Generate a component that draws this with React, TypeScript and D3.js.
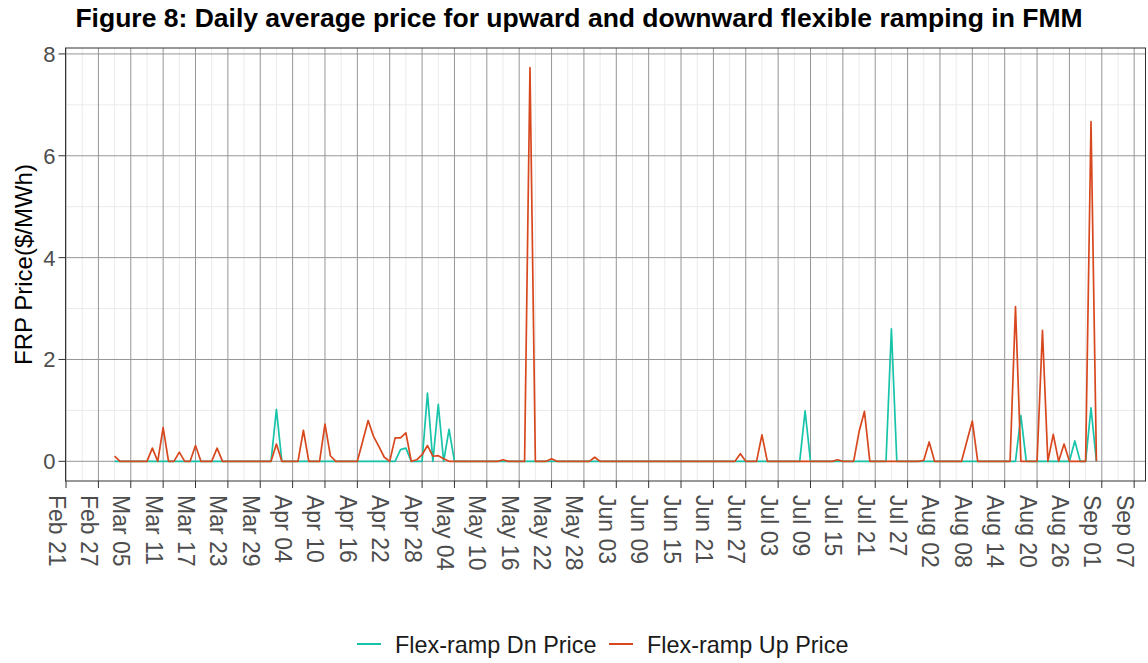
import React, { useEffect, useRef } from 'react';
import * as d3 from 'd3';

// daily values, Mar 02 .. Aug 31 2019
const dnMar = [0, 0, 0, 0, 0, 0, 0, 0, 0, 0, 0, 0, 0, 0, 0, 0, 0, 0, 0, 0, 0, 0, 0, 0, 0, 0, 0, 0, 0, 0];
const dnApr = [1.02, 0, 0, 0, 0, 0, 0, 0, 0, 0, 0, 0, 0, 0, 0, 0, 0, 0, 0, 0, 0, 0, 0, 0.23, 0.26, 0, 0, 0, 1.34, 0];
const dnMay = [1.12, 0, 0.63, 0, 0, 0, 0, 0, 0, 0, 0, 0, 0, 0, 0, 0, 0, 0, 0, 0, 0, 0, 0, 0, 0, 0, 0, 0, 0, 0, 0];
const dnJun = [0, 0, 0, 0, 0, 0, 0, 0, 0, 0, 0, 0, 0, 0, 0, 0, 0, 0, 0, 0, 0, 0, 0, 0, 0, 0, 0, 0, 0, 0];
const dnJul = [0, 0, 0, 0, 0, 0, 0, 0.99, 0, 0, 0, 0, 0, 0, 0, 0, 0, 0, 0, 0, 0, 0, 0, 2.6, 0, 0, 0, 0, 0, 0, 0];
const dnAug = [0, 0, 0, 0, 0, 0, 0, 0, 0, 0, 0, 0, 0, 0, 0, 0, 0.9, 0, 0, 0, 0, 0, 0, 0, 0, 0, 0.4, 0, 0, 1.05, 0];

const upMar = [0.1, 0, 0, 0, 0, 0, 0, 0.26, 0, 0.66, 0, 0, 0.18, 0, 0, 0.31, 0, 0, 0, 0.26, 0, 0, 0, 0, 0, 0, 0, 0, 0, 0];
const upApr = [0.34, 0, 0, 0, 0, 0.61, 0, 0, 0, 0.73, 0.11, 0, 0, 0, 0, 0, 0.4, 0.8, 0.49, 0.29, 0.08, 0, 0.46, 0.46, 0.56, 0, 0.03, 0.13, 0.31, 0.1];
const upMay = [0.11, 0.05, 0, 0, 0, 0, 0, 0, 0, 0, 0, 0, 0.03, 0, 0, 0, 0, 7.73, 0, 0, 0, 0.05, 0, 0, 0, 0, 0, 0, 0, 0.08, 0];
const upJun = [0, 0, 0, 0, 0, 0, 0, 0, 0, 0, 0, 0, 0, 0, 0, 0, 0, 0, 0, 0, 0, 0, 0, 0, 0, 0.15, 0, 0, 0, 0.52];
const upJul = [0, 0, 0, 0, 0, 0, 0, 0, 0, 0, 0, 0, 0, 0.03, 0, 0, 0, 0.58, 0.98, 0, 0, 0, 0, 0, 0, 0, 0, 0, 0, 0.02, 0.38];
const upAug = [0, 0, 0, 0, 0, 0, 0.4, 0.79, 0, 0, 0, 0, 0, 0, 0, 3.04, 0, 0, 0, 0, 2.57, 0, 0.53, 0, 0.34, 0, 0, 0, 0, 6.67, 0];

const tickLabels = ['Feb 21', 'Feb 27', 'Mar 05', 'Mar 11', 'Mar 17', 'Mar 23', 'Mar 29', 'Apr 04', 'Apr 10', 'Apr 16', 'Apr 22', 'Apr 28',
  'May 04', 'May 10', 'May 16', 'May 22', 'May 28', 'Jun 03', 'Jun 09', 'Jun 15', 'Jun 21', 'Jun 27', 'Jul 03', 'Jul 09', 'Jul 15',
  'Jul 21', 'Jul 27', 'Aug 02', 'Aug 08', 'Aug 14', 'Aug 20', 'Aug 26', 'Sep 01', 'Sep 07'];
const yTicks = [0, 2, 4, 6, 8];

const seriesNames = ['Flex-ramp Dn Price', 'Flex-ramp Up Price'];
const colors = ['#17C4AA', '#D8481F'];

const YEAR = 2019;
const FONT = '"Liberation Sans", Arial, Helvetica, sans-serif';

const App = () => {
  const ref = useRef(null);

  useEffect(() => {
    const svg = d3.select(ref.current);
    svg.selectAll('*').remove();

    const start = new Date(YEAR, 2, 2);
    const toSeries = (months: number[][]) =>
      months.flat().map((v, i) => ({ date: d3.timeDay.offset(start, i), value: v }));
    const series = [
      toSeries([dnMar, dnApr, dnMay, dnJun, dnJul, dnAug]),
      toSeries([upMar, upApr, upMay, upJun, upJul, upAug]),
    ];

    const panel = { left: 65.5, right: 1145.5, top: 48, bottom: 481 };

    // ggplot-style 5% expansion
    const [d0, d1] = d3.extent(series[0], d => d.date) as [Date, Date];
    const span = +d1 - +d0;
    const x = d3.scaleTime()
      .domain([new Date(+d0 - span * 0.05), new Date(+d1 + span * 0.05)])
      .range([panel.left, panel.right]);
    const maxV = d3.max(series.flat(), d => d.value) as number;
    const y = d3.scaleLinear()
      .domain([-maxV * 0.05, maxV * 1.05])
      .range([panel.bottom, panel.top]);

    const parse = d3.timeParse('%b %d %Y');
    const ticks = tickLabels.map(t => parse(`${t} ${YEAR}`) as Date);
    const minorX = ticks.map(t => d3.timeHour.offset(t, 72)).filter(t => x(t) < panel.right);
    const minorY = yTicks.slice(0, -1).map(v => v + 1);

    const g = svg.append('g');

    // minor grid
    g.selectAll('.mx').data(minorX).enter().append('line')
      .attr('x1', d => x(d)).attr('x2', d => x(d))
      .attr('y1', panel.top).attr('y2', panel.bottom)
      .attr('stroke', '#ebebeb').attr('stroke-width', 1);
    g.selectAll('.my').data(minorY).enter().append('line')
      .attr('x1', panel.left).attr('x2', panel.right)
      .attr('y1', d => y(d)).attr('y2', d => y(d))
      .attr('stroke', '#ebebeb').attr('stroke-width', 1);

    // major grid
    g.selectAll('.gx').data(ticks).enter().append('line')
      .attr('x1', d => x(d)).attr('x2', d => x(d))
      .attr('y1', panel.top).attr('y2', panel.bottom)
      .attr('stroke', '#969696').attr('stroke-width', 1);
    g.selectAll('.gy').data(yTicks).enter().append('line')
      .attr('x1', panel.left).attr('x2', panel.right)
      .attr('y1', d => y(d)).attr('y2', d => y(d))
      .attr('stroke', '#969696').attr('stroke-width', 1);

    // lines
    const line = d3.line<{ date: Date; value: number }>()
      .x(d => x(d.date))
      .y(d => y(d.value));
    series.forEach((s, i) => {
      g.append('path')
        .datum(s)
        .attr('d', line)
        .attr('fill', 'none')
        .attr('stroke', colors[i])
        .attr('stroke-width', 1.7)
        .attr('stroke-linejoin', 'round');
    });

    // panel border
    g.append('rect')
      .attr('x', panel.left).attr('y', panel.top)
      .attr('width', panel.right - panel.left).attr('height', panel.bottom - panel.top)
      .attr('fill', 'none').attr('stroke', '#333').attr('stroke-width', 1);

    // x axis ticks + labels
    g.selectAll('.tx').data(ticks).enter().append('line')
      .attr('x1', d => x(d)).attr('x2', d => x(d))
      .attr('y1', panel.bottom).attr('y2', panel.bottom + 7)
      .attr('stroke', '#333');
    g.selectAll('.lx').data(ticks).enter().append('text')
      .attr('transform', d => `translate(${x(d) - 17.5},${panel.bottom + 14}) rotate(90)`)
      .attr('font-family', FONT).attr('font-size', 23).attr('fill', '#4d4d4d')
      .text((d, i) => tickLabels[i]);

    // y axis ticks + labels
    g.selectAll('.ty').data(yTicks).enter().append('line')
      .attr('x1', panel.left - 7).attr('x2', panel.left)
      .attr('y1', d => y(d)).attr('y2', d => y(d))
      .attr('stroke', '#333');
    g.selectAll('.ly').data(yTicks).enter().append('text')
      .attr('x', panel.left - 10).attr('y', d => y(d))
      .attr('dy', '0.36em')
      .attr('text-anchor', 'end')
      .attr('font-family', FONT).attr('font-size', 22).attr('fill', '#4d4d4d')
      .text(d => d);

    // y title
    svg.append('text')
      .attr('transform', `translate(32,${(panel.top + panel.bottom) / 2}) rotate(-90)`)
      .attr('text-anchor', 'middle')
      .attr('font-family', FONT).attr('font-size', 24).attr('fill', '#000')
      .text('FRP Price($/MWh)');

    // title
    svg.append('text')
      .attr('x', 579).attr('y', 27)
      .attr('text-anchor', 'middle')
      .attr('font-family', FONT).attr('font-size', 26.5).attr('font-weight', 'bold').attr('fill', '#000')
      .text('Figure 8: Daily average price for upward and downward flexible ramping in FMM');

    // legend
    const legendX = [357, 609];
    seriesNames.forEach((name, i) => {
      svg.append('line')
        .attr('x1', legendX[i]).attr('x2', legendX[i] + 24)
        .attr('y1', 644).attr('y2', 644)
        .attr('stroke', colors[i]).attr('stroke-width', 2);
      svg.append('text')
        .attr('x', legendX[i] + 38).attr('y', 653)
        .attr('font-family', FONT).attr('font-size', 23.4).attr('fill', '#1a1a1a')
        .text(name);
    });
  }, []);

  return (
    <svg ref={ref} width={1148} height={663} style={{ position: 'absolute', left: 0, top: 0, background: '#fff' }}></svg>
  );
};

export default App;
